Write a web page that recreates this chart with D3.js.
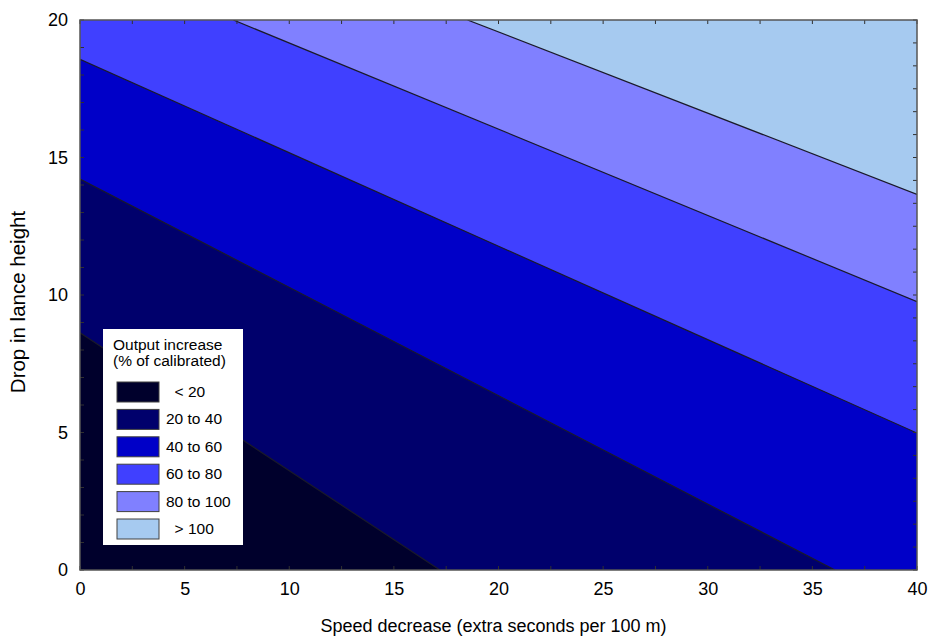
<!DOCTYPE html>
<html>
<head>
<meta charset="utf-8">
<script src="https://cdn.jsdelivr.net/npm/d3@7"></script>
<style>
  body { margin: 0; background: #fff; }
  svg { display: block; font-family: Arial, "Liberation Sans", sans-serif; }
  .legend-label { white-space: pre; }
</style>
</head>
<body>
<svg id="chart" width="929" height="638"></svg>
<script>
// contour levels (output increase, % of calibrated) and their band colours
var levels = [20, 40, 60, 80, 100];
var bandColors = ["#00002c", "#00006c", "#0000c8", "#4040ff", "#8080ff", "#a6caf0"];
var bandLabels = ["  < 20", "20 to 40", "40 to 60", "60 to 80", "80 to 100", "  > 100"];

// contour lines: [speed decrease, drop in lance height]
var line20 = [[0, 8.63], [17.2, 0]];
var line40 = [[0, 14.22], [36.08, 0]];
var line60 = [[0, 18.57], [40, 4.98]];
var line80 = [[7.33, 20], [40, 9.76]];
var line100 = [[18.52, 20], [40, 13.66]];
var contourLines = [line20, line40, line60, line80, line100];

var xTicks = [0, 5, 10, 15, 20, 25, 30, 35, 40];
var yTicks = [0, 5, 10, 15, 20];

var xMin = 0, xMax = 40, yMin = 0, yMax = 20;
var plotL = 80, plotR = 917, plotT = 20, plotB = 570;

var svg = d3.select('#chart');

var x = d3.scaleLinear().domain([xMin, xMax]).range([plotL, plotR]);
var y = d3.scaleLinear().domain([yMin, yMax]).range([plotB, plotT]);

svg.append('clipPath').attr('id', 'plot-clip')
  .append('rect')
  .attr('x', plotL).attr('y', plotT)
  .attr('width', plotR - plotL).attr('height', plotB - plotT);

var plot = svg.append('g').attr('clip-path', 'url(#plot-clip)');

// lowest band fills the whole area, the others are painted on top
plot.append('rect')
  .attr('x', plotL).attr('y', plotT)
  .attr('width', plotR - plotL).attr('height', plotB - plotT)
  .attr('fill', bandColors[0]);

function regionAbove(pts) {
  var poly = pts.slice();
  var start = pts[0], end = pts[pts.length - 1];
  if (end[1] == yMin) poly.push([xMax, yMin]);
  poly.push([xMax, yMax]);
  if (start[0] == xMin) poly.push([xMin, yMax]);
  return poly;
}

var lineGen = d3.line().x(function(d) { return x(d[0]); }).y(function(d) { return y(d[1]); });

plot.selectAll('path.band').data(contourLines).enter().append('path')
  .attr('class', 'band')
  .attr('d', function(d) { return lineGen(regionAbove(d)) + 'Z'; })
  .attr('fill', function(d, i) { return bandColors[i + 1]; });

plot.selectAll('path.contour').data(contourLines).enter().append('path')
  .attr('class', 'contour')
  .attr('d', lineGen)
  .attr('fill', 'none')
  .attr('stroke', '#1a1a2a')
  .attr('stroke-width', 1.2);

// small inside ticks on all four sides
var tickCol = '#303030';
var tb = svg.append('g');
d3.range(0, 40.01, 2.5).forEach(function(v) {
  tb.append('line').attr('x1', x(v)).attr('x2', x(v)).attr('y1', plotT).attr('y2', plotT + 4).attr('stroke', tickCol);
  tb.append('line').attr('x1', x(v)).attr('x2', x(v)).attr('y1', plotB).attr('y2', plotB - 4).attr('stroke', tickCol);
});
d3.range(0, 20.01, 1).forEach(function(v) {
  tb.append('line').attr('x1', plotL).attr('x2', plotL + 4).attr('y1', y(v)).attr('y2', y(v)).attr('stroke', tickCol);
});
d3.range(0, 24.01, 1).forEach(function(k) {
  var v = k * 5 / 6;
  tb.append('line').attr('x1', plotR).attr('x2', plotR - 4).attr('y1', y(v)).attr('y2', y(v)).attr('stroke', tickCol);
});

// frame
svg.append('rect')
  .attr('x', plotL).attr('y', plotT)
  .attr('width', plotR - plotL).attr('height', plotB - plotT)
  .attr('fill', 'none').attr('stroke', '#555').attr('stroke-width', 1.5);

// tick labels via axes without tick lines
var xAxis = d3.axisBottom(x).tickValues(xTicks).tickSize(0).tickPadding(12).tickFormat(d3.format('d'));
var gx = svg.append('g').attr('transform', 'translate(0,' + plotB + ')').call(xAxis);
gx.select('.domain').remove();
gx.selectAll('text').attr('font-size', 18).attr('fill', '#000').attr('font-family', 'Arial, "Liberation Sans", sans-serif');

var yAxis = d3.axisLeft(y).tickValues(yTicks).tickSize(0).tickPadding(12).tickFormat(d3.format('d'));
var gy = svg.append('g').attr('transform', 'translate(' + plotL + ',0)').call(yAxis);
gy.select('.domain').remove();
gy.selectAll('text').attr('font-size', 18).attr('fill', '#000').attr('font-family', 'Arial, "Liberation Sans", sans-serif');

// axis titles
svg.append('text').text('Speed decrease (extra seconds per 100 m)')
  .attr('x', (plotL + plotR) / 2 - 5).attr('y', 632)
  .attr('text-anchor', 'middle').attr('font-size', 18);

svg.append('text').text('Drop in lance height')
  .attr('transform', 'translate(25,' + 302 + ') rotate(-90)')
  .attr('text-anchor', 'middle').attr('font-size', 20.5);

// legend
var lg = svg.append('g').attr('transform', 'translate(103,329)');
lg.append('rect').attr('width', 140).attr('height', 216).attr('fill', '#fff');
lg.append('text').text('Output increase').attr('x', 10).attr('y', 21).attr('font-size', 15.5);
lg.append('text').text('(% of calibrated)').attr('x', 10).attr('y', 37).attr('font-size', 15.5);

var items = lg.selectAll('g.item').data(bandLabels).enter().append('g')
  .attr('class', 'item')
  .attr('transform', function(d, i) { return 'translate(14,' + (53 + i * 27.4) + ')'; });
items.append('rect')
  .attr('width', 42).attr('height', 20)
  .attr('fill', function(d, i) { return bandColors[i]; })
  .attr('stroke', '#404040').attr('stroke-width', 1);
items.append('text')
  .attr('class', 'legend-label')
  .text(function(d) { return d; })
  .attr('x', 49).attr('y', 15)
  .attr('font-size', 15.5);
</script>
</body>
</html>
